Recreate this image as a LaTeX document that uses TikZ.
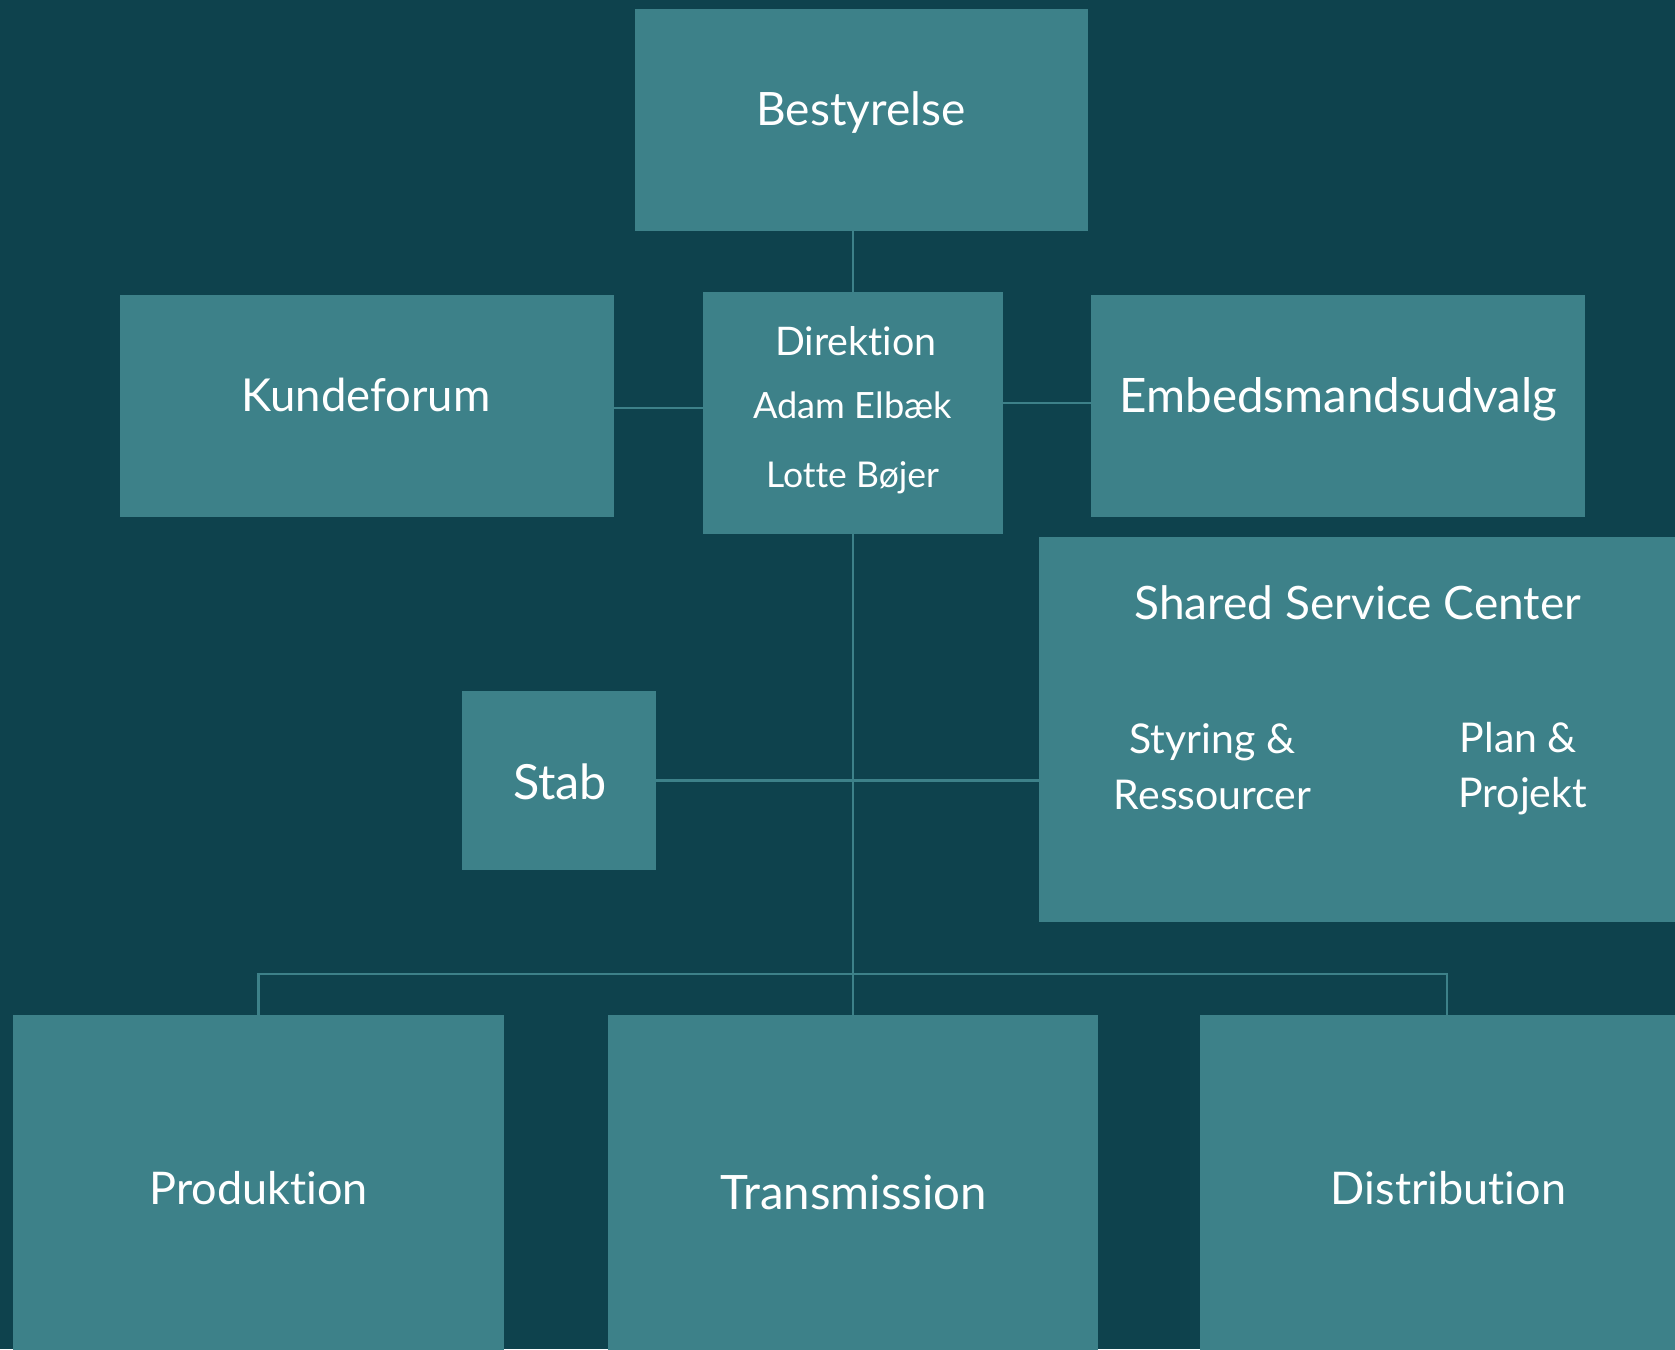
\documentclass[tikz,border=0pt]{standalone}
\usepackage{fontspec}
\setmainfont{Lato}[Ligatures=NoCommon]
\definecolor{bgc}{HTML}{0E424D}
\definecolor{boxc}{HTML}{3D8189}
\begin{document}
\begin{tikzpicture}[x=1pt,y=-1pt,
  orgbox/.style={fill=boxc, draw=none, inner sep=0pt, outer sep=0pt},
  txt/.style={text=white, inner sep=0pt, anchor=base},
  conn/.style={draw=boxc, line width=2.4pt}]
\fill[bgc] (0,0) rectangle (1675,1349);
\useasboundingbox (0,0) rectangle (1675,1349);
% boxes
\node[orgbox, minimum width=453pt, minimum height=222.2pt] (best) at (861,119.6) {};
\node[orgbox, minimum width=494.6pt, minimum height=222.2pt] (kunde) at (366.9,405.9) {};
\node[orgbox, minimum width=300pt, minimum height=242.4pt] (dir) at (853,412.8) {};
\node[orgbox, minimum width=494.6pt, minimum height=222.2pt] (emb) at (1337.9,405.9) {};
\node[orgbox, minimum width=635.6pt, minimum height=384.6pt] (ssc) at (1357.2,729.6) {};
\node[orgbox, minimum width=194.4pt, minimum height=178.4pt] (stab) at (558.7,780.3) {};
\node[orgbox, minimum width=491.4pt, minimum height=340pt] (prod) at (258.5,1184.8) {};
\node[orgbox, minimum width=490.3pt, minimum height=340pt] (trans) at (853,1184.8) {};
\node[orgbox, minimum width=490.4pt, minimum height=340pt] (dist) at (1444.8,1184.8) {};
% texts
\node[txt, font=\fontsize{46}{54}\selectfont] (tbest) at (861,125) {Bestyrelse};
\node[txt, font=\fontsize{45.4}{54}\selectfont] (tkunde) at (366,411) {Kundeforum};
\node[txt, font=\fontsize{47.5}{56}\selectfont] (temb) at (1338.5,412) {Embedsmandsudvalg};
\node[txt, font=\fontsize{39.4}{46}\selectfont] (tdir) at (856,355) {Direktion};
\node[txt, font=\fontsize{36.2}{43}\selectfont] (tadam) at (852.5,418) {Adam Elbæk};
\node[txt, font=\fontsize{35.5}{43}\selectfont] (tlotte) at (852.5,487) {Lotte Bøjer};
\node[txt, font=\fontsize{46}{54}\selectfont] (tssc) at (1357.8,619) {Shared Service Center};
\node[txt, font=\fontsize{41}{49}\selectfont] (tsty) at (1212.5,753) {Styring \&};
\node[txt, font=\fontsize{41}{49}\selectfont] (tres) at (1212.7,809) {Ressourcer};
\node[txt, font=\fontsize{41}{49}\selectfont] (tplan) at (1518.5,752) {Plan \&};
\node[txt, font=\fontsize{41}{49}\selectfont] (tproj) at (1522.8,807) {Projekt};
\node[txt, font=\fontsize{48.5}{56}\selectfont] (tstab) at (560,799) {Stab};
\node[txt, font=\fontsize{45}{53}\selectfont] (tprod) at (258.5,1204) {Produktion};
\node[txt, font=\fontsize{47.4}{55}\selectfont] (ttrans) at (853.5,1209) {Transmission};
\node[txt, font=\fontsize{45}{53}\selectfont] (tdist) at (1448.5,1204) {Distribution};
% connectors
\coordinate (kj) at (0,407.7);
\coordinate (ej) at (0,402.7);
\coordinate (bus) at (0,974);
\coordinate (distx) at (1447,0);
\draw[conn] (dir.north) -- (dir.north |- best.south);
\draw[conn] (kunde.east |- kj) -- (dir.west |- kj);
\draw[conn] (dir.east |- ej) -- (emb.west |- ej);
\draw[conn] (dir.south) -- (trans.north);
\draw[conn] (stab.east) -- (ssc.west |- stab.east);
\draw[conn] (prod.north) -- (prod.north |- bus) -- (distx |- bus) -- (distx |- dist.north);
\end{tikzpicture}
\end{document}
